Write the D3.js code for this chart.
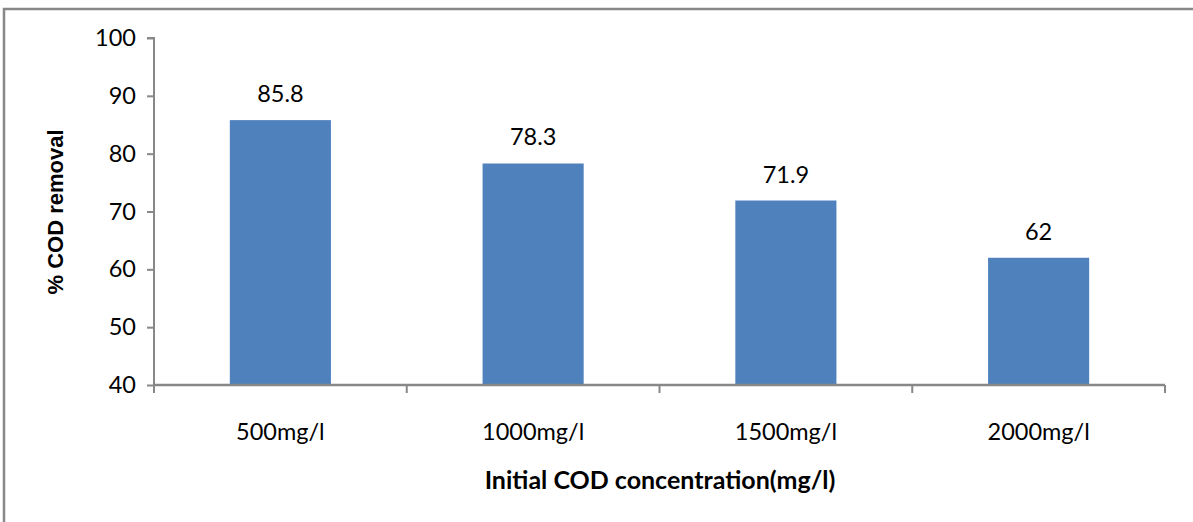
<!DOCTYPE html>
<html>
<head>
<meta charset="utf-8">
<script src="https://cdn.jsdelivr.net/npm/d3@7/dist/d3.min.js"></script>
<style>
  html, body { margin: 0; padding: 0; background: #fff; }
  svg { display: block; }
  .tick text { font-family: Lato, "Open Sans", sans-serif; }
</style>
</head>
<body>
<svg id="chart" width="1193" height="522"></svg>
<script>
// COD removal efficiency by initial concentration
const categories = ["500mg/l", "1000mg/l", "1500mg/l", "2000mg/l"];
const removal = [85.8, 78.3, 71.9, 62];
const yTicks = [40, 50, 60, 70, 80, 90, 100];

const svg = d3.select("#chart");
const W = 1193, H = 522;
const margin = { left: 154, right: 28, top: 38, bottom: 137 };
const plotW = W - margin.left - margin.right;
const plotH = H - margin.top - margin.bottom;
const labelFont = "Lato, 'Open Sans', sans-serif";

// outer frame (left and top edges visible)
svg.append("rect")
  .attr("x", 4).attr("y", 9)
  .attr("width", W + 10).attr("height", H + 10)
  .attr("fill", "none")
  .attr("stroke", "#888").attr("stroke-width", 2.5);

const g = svg.append("g").attr("transform", `translate(${margin.left},${margin.top})`);

const x = d3.scaleBand().domain(categories).range([0, plotW]).paddingInner(0.6).paddingOuter(0.3);
const y = d3.scaleLinear().domain([40, 100]).range([plotH, 0]);

// bars
g.selectAll("rect.bar").data(categories).join("rect")
  .attr("class", "bar")
  .attr("x", d => x(d))
  .attr("width", x.bandwidth())
  .attr("y", (d, i) => y(removal[i]))
  .attr("height", (d, i) => plotH - y(removal[i]))
  .attr("fill", "#4F81BD");

// value labels
g.selectAll("text.val").data(categories).join("text")
  .attr("class", "val")
  .attr("x", d => x(d) + x.bandwidth() / 2)
  .attr("y", (d, i) => y(removal[i]) - 18)
  .attr("text-anchor", "middle")
  .attr("font-family", labelFont)
  .attr("font-size", 23.5)
  .attr("fill", "#000")
  .text((d, i) => removal[i]);

// y axis
const yAxis = g.append("g")
  .call(d3.axisLeft(y).tickValues(yTicks).tickSize(7).tickPadding(11));
yAxis.selectAll("path, line").attr("stroke", "#888").attr("stroke-width", 2);
yAxis.select(".domain").attr("d", `M-7,0H0V${plotH}`);
yAxis.selectAll("text").attr("font-size", 23.5).attr("fill", "#000");

// x axis with tick marks at category boundaries
const xAxisG = g.append("g").attr("transform", `translate(0,${plotH})`);
xAxisG.append("line")
  .attr("x1", 0).attr("x2", plotW)
  .attr("stroke", "#888").attr("stroke-width", 2.5);
const bounds = d3.range(categories.length + 1).map(i => i * plotW / categories.length);
xAxisG.selectAll("line.bt").data(bounds).join("line")
  .attr("class", "bt")
  .attr("x1", d => d).attr("x2", d => d)
  .attr("y1", 0).attr("y2", 8)
  .attr("stroke", "#888").attr("stroke-width", 2);
xAxisG.selectAll("text.cat").data(categories).join("text")
  .attr("class", "cat")
  .attr("x", d => x(d) + x.bandwidth() / 2)
  .attr("y", 55)
  .attr("text-anchor", "middle")
  .attr("font-family", labelFont)
  .attr("font-size", 23.5)
  .attr("fill", "#000")
  .text(d => d);

// axis titles
svg.append("text")
  .attr("x", 660).attr("y", 489)
  .attr("text-anchor", "middle")
  .attr("font-family", labelFont)
  .attr("font-weight", "bold")
  .attr("font-size", 25)
  .attr("fill", "#000")
  .text("Initial COD concentration(mg/l)");

svg.append("text")
  .attr("transform", "translate(63,212) rotate(-90)")
  .attr("text-anchor", "middle")
  .attr("font-family", "'Liberation Sans', Arial, sans-serif")
  .attr("font-weight", "bold")
  .attr("font-size", 22)
  .attr("fill", "#000")
  .text("% COD removal");
</script>
</body>
</html>
